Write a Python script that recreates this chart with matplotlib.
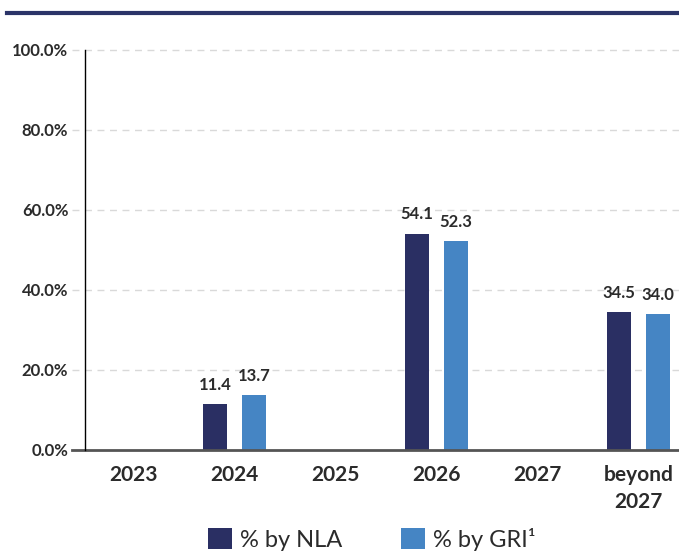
import matplotlib
matplotlib.use("Agg")
import matplotlib.pyplot as plt
from matplotlib.lines import Line2D
from matplotlib.patches import Patch
import numpy as np

plt.rcParams['font.family'] = ['Lato', 'DejaVu Sans']

categories = ["2023", "2024", "2025", "2026", "2027", "beyond\n2027"]
nla = [0, 11.4, 0, 54.1, 0, 34.5]
gri = [0, 13.7, 0, 52.3, 0, 34.0]
series_names = ["% by NLA", "% by GRI¹"]
yticks = [0, 20, 40, 60, 80, 100]

c_nla = "#2a2f63"
c_gri = "#4585c4"
txt = "#2b2b2b"

W, H = 679, 552
fig = plt.figure(figsize=(W / 100, H / 100), dpi=100)
left, right = 85 / W, 1.0
bottom, top = 1 - 450 / H, 1 - 50 / H
ax = fig.add_axes([left, bottom, right - left, top - bottom])

x = np.arange(len(categories))
bw = 0.238
off = 0.193
b1 = ax.bar(x - off, nla, bw, color=c_nla, zorder=3)
b2 = ax.bar(x + off, gri, bw, color=c_gri, zorder=3)

for bars, vals in ((b1, nla), (b2, gri)):
    for rect, v in zip(bars, vals):
        if v > 0:
            ax.annotate(f"{v:.1f}", (rect.get_x() + rect.get_width() / 2, v),
                        xytext=(0, 8), textcoords="offset points",
                        ha="center", va="bottom", fontsize=12,
                        fontweight="bold", color=txt)

ax.set_xlim(-0.48, 5.40)
ax.set_ylim(0, 100)

# gridlines extending left of axis
ext = -13 / (W * (right - left))
trans = ax.get_yaxis_transform()
for t in yticks[1:]:
    ax.plot([ext, 1], [t, t], transform=trans, color="#d9d9d9",
            lw=1, ls=(0, (5, 4)), clip_on=False, zorder=1)
ax.plot([ext, 1], [0, 0], transform=trans, color="#555555",
        lw=2, clip_on=False, zorder=4)

for s in ("top", "right", "bottom"):
    ax.spines[s].set_visible(False)
ax.spines["left"].set_color("black")
ax.spines["left"].set_linewidth(1)
ax.spines["left"].set_zorder(5)

ax.set_yticks(yticks)
ax.set_yticklabels([f"{t:.1f}%" for t in yticks], fontsize=12,
                   fontweight="bold", color=txt)
ax.tick_params(axis="y", length=0, pad=12)
ax.set_xticks(x)
ax.set_xticklabels(categories, fontsize=15, fontweight="bold", color=txt,
                   linespacing=1.4)
ax.tick_params(axis="x", length=0, pad=11)

# top rule
fig.add_artist(Line2D([7 / W, 1], [1 - 13 / H, 1 - 13 / H],
                      transform=fig.transFigure, color="#2b3468", lw=3))

handles = [Patch(facecolor=c_nla), Patch(facecolor=c_gri)]
fig.legend(handles, series_names, loc="lower left",
           bbox_to_anchor=(208 / W, 1 / H), ncol=2, frameon=False,
           fontsize=17, handlelength=1.0, handleheight=1.0,
           handletextpad=0.35, columnspacing=2.5, labelcolor=txt,
           borderaxespad=0, borderpad=0)

fig.savefig("out.png", dpi=100)
